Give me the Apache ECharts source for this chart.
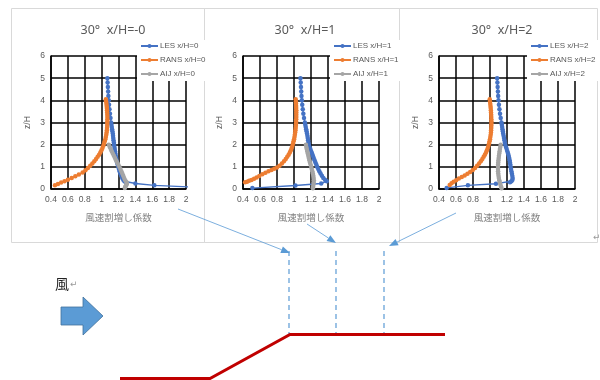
<!DOCTYPE html>
<html><head><meta charset="utf-8">
<script src="https://cdn.jsdelivr.net/npm/echarts@6/dist/echarts.min.js"></script>
<style>html,body{margin:0;padding:0;background:#fff}#c{width:600px;height:380px}</style>
</head><body><div id="c"></div>
<script>
// ---- data ----
const panelTitles = ['30°  x/H=-0', '30°  x/H=1', '30°  x/H=2'];
const lesNames  = ['LES x/H=0', 'LES x/H=1', 'LES x/H=2'];
const ransNames = ['RANS x/H=0', 'RANS x/H=1', 'RANS x/H=2'];
const aijNames  = ['AIJ x/H=0', 'AIJ x/H=1', 'AIJ x/H=2'];
const xAxisName = '風速割増し係数';
const yAxisName = 'z/H';
const windLabel = '風';

const les0 = [[1.068,5.0],[1.071,4.8],[1.074,4.6],[1.077,4.4],[1.080,4.2],[1.084,4.0],[1.088,3.8],[1.093,3.6],[1.099,3.4],[1.105,3.2],[1.112,3.0],[1.116,2.9],[1.120,2.8],[1.124,2.7],[1.128,2.6],[1.132,2.5],[1.135,2.4],[1.138,2.3],[1.141,2.2],[1.145,2.1],[1.148,2.0],[1.151,1.9],[1.155,1.8],[1.159,1.7],[1.163,1.6],[1.167,1.5],[1.172,1.4],[1.177,1.3],[1.183,1.2],[1.190,1.1],[1.197,1.0],[1.205,0.9],[1.213,0.8],[1.222,0.7],[1.232,0.6],[1.244,0.5],[1.256,0.42],[1.270,0.35],[1.285,0.3],[1.40,0.25],[1.625,0.165],[2.3,0.05]];
const rans0 = [[1.050,4.05],[1.054,3.95],[1.057,3.85],[1.060,3.75],[1.062,3.65],[1.064,3.55],[1.066,3.45],[1.067,3.35],[1.068,3.25],[1.068,3.15],[1.068,3.05],[1.067,2.95],[1.066,2.85],[1.064,2.75],[1.062,2.65],[1.059,2.55],[1.055,2.45],[1.050,2.35],[1.044,2.25],[1.037,2.15],[1.029,2.05],[1.020,1.95],[1.010,1.85],[0.998,1.75],[0.985,1.65],[0.970,1.55],[0.953,1.45],[0.934,1.35],[0.913,1.25],[0.890,1.15],[0.865,1.05],[0.838,0.95],[0.808,0.85],[0.775,0.75],[0.730,0.65],[0.688,0.57],[0.645,0.50],[0.600,0.42],[0.560,0.35],[0.520,0.29],[0.482,0.23],[0.447,0.17]];
const aij0 = [[1.085,2.0],[1.096,1.9],[1.108,1.8],[1.120,1.7],[1.132,1.6],[1.145,1.5],[1.158,1.4],[1.171,1.3],[1.184,1.2],[1.197,1.1],[1.210,1.0],[1.222,0.9],[1.234,0.8],[1.245,0.7],[1.256,0.6],[1.267,0.5],[1.280,0.4],[1.295,0.3],[1.300,0.25],[1.296,0.2],[1.288,0.15],[1.280,0.1],[1.275,0.05]];

const les1 = [[1.076,5.0],[1.079,4.8],[1.082,4.6],[1.085,4.4],[1.088,4.2],[1.092,4.0],[1.097,3.8],[1.103,3.6],[1.110,3.4],[1.118,3.2],[1.128,3.0],[1.133,2.9],[1.138,2.8],[1.143,2.7],[1.148,2.6],[1.153,2.5],[1.158,2.4],[1.162,2.3],[1.166,2.2],[1.170,2.1],[1.175,2.0],[1.183,1.9],[1.192,1.8],[1.202,1.7],[1.212,1.6],[1.222,1.5],[1.232,1.4],[1.242,1.3],[1.252,1.2],[1.262,1.1],[1.272,1.0],[1.285,0.9],[1.298,0.8],[1.312,0.7],[1.328,0.6],[1.345,0.5],[1.365,0.42],[1.385,0.35],[1.32,0.25],[1.017,0.16],[0.51,0.04]];
const rans1 = [[1.020,4.05],[1.022,3.95],[1.024,3.85],[1.025,3.75],[1.026,3.65],[1.027,3.55],[1.027,3.45],[1.027,3.35],[1.027,3.25],[1.026,3.15],[1.025,3.05],[1.024,2.95],[1.022,2.85],[1.020,2.75],[1.017,2.65],[1.014,2.55],[1.010,2.45],[1.006,2.35],[1.001,2.25],[0.995,2.15],[0.989,2.05],[0.982,1.95],[0.973,1.85],[0.963,1.75],[0.951,1.65],[0.937,1.55],[0.921,1.45],[0.903,1.35],[0.882,1.25],[0.858,1.15],[0.830,1.05],[0.800,0.97],[0.768,0.91],[0.735,0.86],[0.700,0.80],[0.664,0.73],[0.628,0.66],[0.592,0.59],[0.560,0.52],[0.530,0.46],[0.500,0.41],[0.472,0.37],[0.448,0.33],[0.425,0.30]];
const aij1 = [[1.140,2.0],[1.145,1.9],[1.150,1.8],[1.156,1.7],[1.162,1.6],[1.168,1.5],[1.174,1.4],[1.181,1.3],[1.188,1.2],[1.195,1.1],[1.202,1.0],[1.209,0.9],[1.216,0.8],[1.222,0.7],[1.227,0.6],[1.231,0.5],[1.233,0.4],[1.232,0.3],[1.229,0.2],[1.225,0.1],[1.222,0.03]];

const les2 = [[1.084,5.0],[1.087,4.8],[1.090,4.6],[1.093,4.4],[1.096,4.2],[1.100,4.0],[1.105,3.8],[1.111,3.6],[1.118,3.4],[1.126,3.2],[1.135,3.0],[1.139,2.9],[1.143,2.8],[1.147,2.7],[1.151,2.6],[1.155,2.5],[1.160,2.4],[1.165,2.3],[1.170,2.2],[1.175,2.1],[1.180,2.0],[1.188,1.9],[1.196,1.8],[1.204,1.7],[1.212,1.6],[1.220,1.5],[1.226,1.4],[1.231,1.3],[1.235,1.2],[1.239,1.1],[1.242,1.0],[1.247,0.9],[1.252,0.8],[1.257,0.7],[1.262,0.6],[1.266,0.5],[1.264,0.42],[1.252,0.35],[1.235,0.3],[1.07,0.24],[0.74,0.165],[0.49,0.05]];
const rans2 = [[0.997,4.05],[1.000,3.95],[1.003,3.85],[1.006,3.75],[1.008,3.65],[1.010,3.55],[1.012,3.45],[1.014,3.35],[1.015,3.25],[1.016,3.15],[1.017,3.05],[1.017,2.95],[1.016,2.85],[1.015,2.75],[1.013,2.65],[1.011,2.55],[1.008,2.45],[1.004,2.35],[1.000,2.25],[0.995,2.15],[0.989,2.05],[0.982,1.95],[0.974,1.85],[0.964,1.75],[0.953,1.65],[0.940,1.55],[0.926,1.45],[0.910,1.35],[0.892,1.25],[0.872,1.15],[0.849,1.05],[0.824,0.95],[0.797,0.86],[0.767,0.77],[0.735,0.69],[0.702,0.61],[0.668,0.54],[0.634,0.47],[0.602,0.40],[0.572,0.33],[0.548,0.26],[0.526,0.18]];
const aij2 = [[1.125,2.0],[1.121,1.9],[1.117,1.8],[1.113,1.7],[1.109,1.6],[1.105,1.5],[1.102,1.4],[1.099,1.3],[1.097,1.2],[1.095,1.1],[1.094,1.0],[1.094,0.9],[1.095,0.8],[1.097,0.7],[1.100,0.6],[1.104,0.5],[1.109,0.4],[1.115,0.3],[1.122,0.2],[1.130,0.1],[1.136,0.03]];

const lesData = [les0, les1, les2];
const ransData = [rans0, rans1, rans2];
const aijData = [aij0, aij1, aij2];

// ---- layout ----
const gridLefts = [51, 243, 439];
const gridWidths = [135, 136, 136];
const legendLefts = [137, 330, 527];
const titleCenters = [108, 300, 497];

const C_LES = '#4472C4', C_RANS = '#ED7D31', C_AIJ = '#A5A5A5';
const TXT = '#595959';

const grids = [], xAxes = [], yAxes = [], series = [], legends = [], titles = [];
for (let i = 0; i < 3; i++) {
  grids.push({left: gridLefts[i], top: 56, width: gridWidths[i], height: 133});
  xAxes.push({
    type: 'value', gridIndex: i, min: 0.4, max: 2, interval: 0.2,
    axisLine: {show: true, onZero: false, lineStyle: {color: '#000', width: 1.5}},
    axisTick: {show: false},
    splitLine: {show: true, lineStyle: {color: '#000', width: 1.5}},
    axisLabel: {color: TXT, fontSize: 8.5, margin: 6, fontFamily: 'Liberation Sans'},
    name: xAxisName, nameLocation: 'middle', nameGap: 24,
    nameTextStyle: {color: '#808080', fontSize: 9.5, fontFamily: 'Noto Sans CJK JP'}
  });
  yAxes.push({
    type: 'value', gridIndex: i, min: 0, max: 6, interval: 1,
    axisLine: {show: true, lineStyle: {color: '#000', width: 1.5}},
    axisTick: {show: false},
    splitLine: {show: true, lineStyle: {color: '#000', width: 1.5}},
    axisLabel: {color: TXT, fontSize: 8.5, margin: 6, fontFamily: 'Liberation Sans'},
    name: yAxisName, nameLocation: 'middle', nameGap: 19, nameRotate: 90,
    nameTextStyle: {color: TXT, fontSize: 8.5, fontFamily: 'Liberation Sans'}
  });
  const mk = (name, data, color) => ({
    type: 'line', name, data, xAxisIndex: i, yAxisIndex: i,
    symbol: 'circle', symbolSize: 4.5, clip: true,
    itemStyle: {color}, lineStyle: {color, width: 1.4},
    emphasis: {disabled: true}
  });
  series.push(mk(lesNames[i], lesData[i], C_LES));
  series.push(mk(ransNames[i], ransData[i], C_RANS));
  series.push(mk(aijNames[i], aijData[i], C_AIJ));
  legends.push({
    data: [lesNames[i], ransNames[i], aijNames[i]],
    orient: 'vertical', left: legendLefts[i], top: 40,
    itemWidth: 17, itemHeight: 5, itemGap: 6,
    padding: [2, 6, 3, 3], backgroundColor: '#fff',
    textStyle: {color: TXT, fontSize: 8, fontFamily: 'Liberation Sans', padding: [0, 0, 0, -3]},
    selectedMode: false
  });
  titles.push({
    text: panelTitles[i], left: titleCenters[i], top: 19, textAlign: 'center',
    textStyle: {color: TXT, fontSize: 12.5, fontWeight: 'normal', fontFamily: 'Noto Sans'}
  });
}

// ---- decorations ----
const BLUE = '#5B9BD5';
function head(x1, y1, x2, y2, len, w) {
  const a = Math.atan2(y2 - y1, x2 - x1);
  const bx = x2 - len * Math.cos(a), by = y2 - len * Math.sin(a);
  const px = -Math.sin(a) * w / 2, py = Math.cos(a) * w / 2;
  return {base: [bx, by], pts: [[x2, y2], [bx + px, by + py], [bx - px, by - py]]};
}
const pointers = [[178, 209, 290, 253], [307, 224, 336, 243], [456, 213, 389, 246]];
const graphic = [];
[[11, 204], [204, 399], [399, 597]].forEach(([a, b]) => {
  graphic.push({type: 'rect', shape: {x: a + 0.5, y: 8.5, width: b - a, height: 234},
    style: {fill: 'none', stroke: '#D9D9D9', lineWidth: 1}, z: 0, silent: true});
});
pointers.forEach(([x1, y1, x2, y2]) => {
  const h = head(x1, y1, x2, y2, 9, 7);
  graphic.push({type: 'line', shape: {x1, y1, x2: h.base[0], y2: h.base[1]},
    style: {stroke: BLUE, lineWidth: 0.8}, z: 50, silent: true});
  graphic.push({type: 'polygon', shape: {points: h.pts}, style: {fill: BLUE}, z: 50, silent: true});
});
[289, 336, 384].forEach(x => {
  graphic.push({type: 'line', shape: {x1: x, y1: 251, x2: x, y2: 334},
    style: {stroke: BLUE, lineWidth: 1.2, lineDash: [5, 4]}, z: 40, silent: true});
});
graphic.push({type: 'polyline', shape: {points: [[120, 378.5], [210, 378.5], [290, 334.5], [445, 334.5]]},
  style: {stroke: '#C00000', lineWidth: 3, fill: 'none'}, z: 45, silent: true});
graphic.push({type: 'polygon', shape: {points: [[61, 307], [83, 307], [83, 297], [103, 316], [83, 335], [83, 325], [61, 325]]},
  style: {fill: BLUE, stroke: '#41719C', lineWidth: 0.8}, z: 45, silent: true});
graphic.push({type: 'text', x: 55, y: 277, style: {text: windLabel, fill: '#222', fontSize: 14, fontFamily: 'Noto Sans CJK JP'}, z: 45});
graphic.push({type: 'text', x: 70, y: 280, style: {text: '↵', fill: '#999', fontSize: 9, fontFamily: 'DejaVu Sans'}, z: 45});
graphic.push({type: 'text', x: 593, y: 233, style: {text: '↵', fill: '#999', fontSize: 9, fontFamily: 'DejaVu Sans'}, z: 45});

const chart = echarts.init(document.getElementById('c'), null, {renderer: 'canvas'});
chart.setOption({
  animation: false, backgroundColor: '#fff',
  title: titles, grid: grids, xAxis: xAxes, yAxis: yAxes, legend: legends, series, graphic
});
</script></body></html>
